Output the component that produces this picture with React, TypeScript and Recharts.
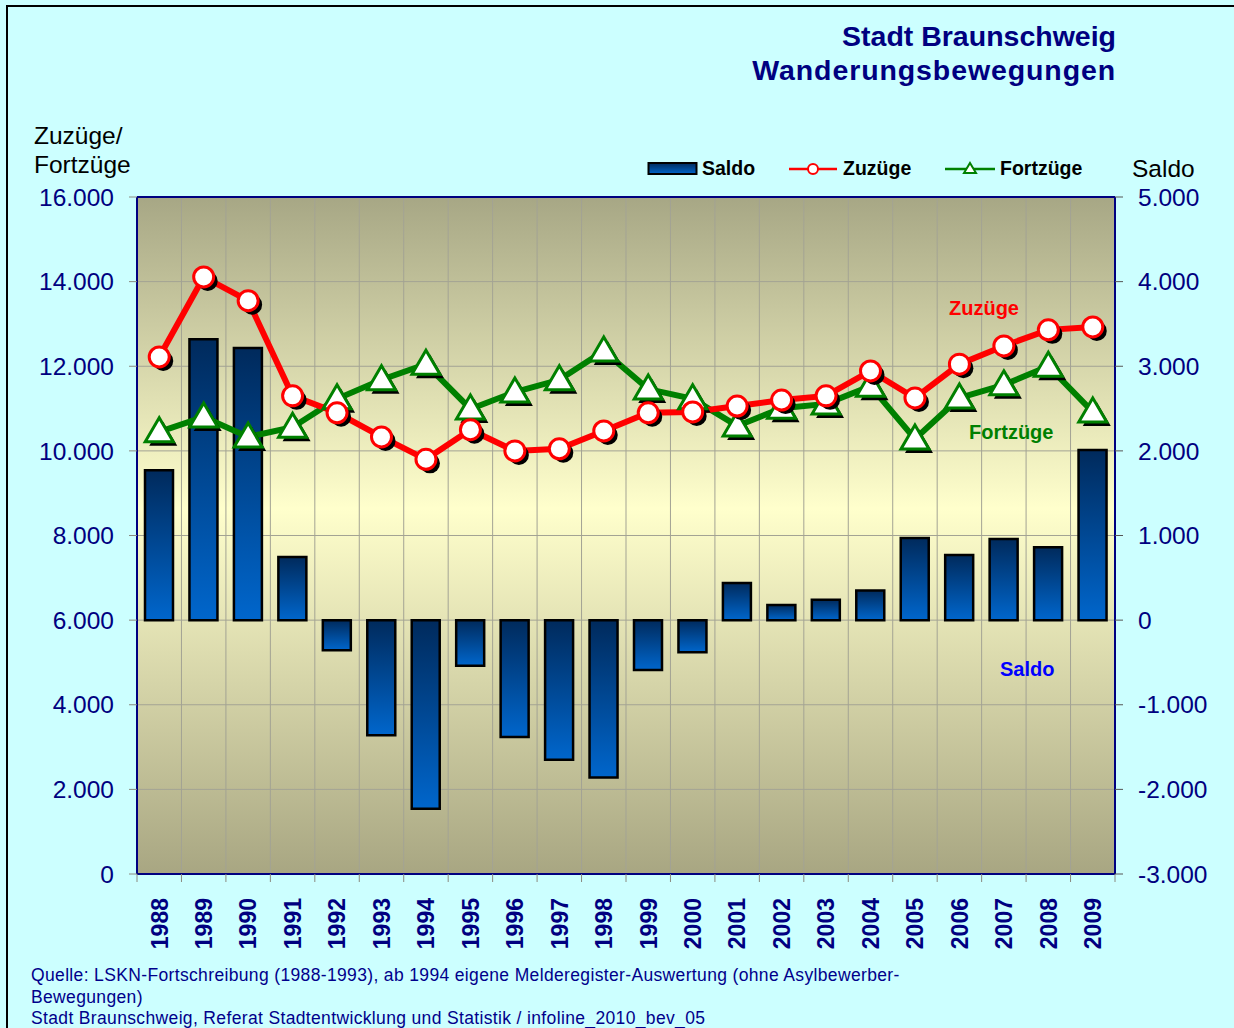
import { ComposedChart, Bar, Line, XAxis, YAxis, CartesianGrid, ReferenceLine } from 'recharts';

const YEARS = ['1988', '1989', '1990', '1991', '1992', '1993', '1994', '1995', '1996', '1997', '1998',
    '1999', '2000', '2001', '2002', '2003', '2004', '2005', '2006', '2007', '2008', '2009'];

// Zuzüge (left axis)
const ZUZUEGE = [12220, 14110, 13550, 11300, 10900, 10330, 9800, 10500, 10000, 10050, 10470,
    10900, 10920, 11060, 11200, 11300, 11890, 11250, 12050, 12480, 12860, 12930];

// Fortzüge (left axis)
const FORTZUEGE = [10450, 10800, 10330, 10560, 11230, 11680, 12050, 10990, 11390, 11680, 12360,
    11460, 11230, 10590, 11010, 11110, 11530, 10280, 11250, 11560, 12000, 10920];

// Saldo (right axis)
const SALDO = [1770, 3320, 3215, 745, -355, -1360, -2230, -540, -1380, -1650, -1860,
    -590, -380, 440, 180, 240, 350, 970, 770, 960, 860, 2010];

const LEFT_TICKS = [0, 2000, 4000, 6000, 8000, 10000, 12000, 14000, 16000];
const RIGHT_TICKS = [-3000, -2000, -1000, 0, 1000, 2000, 3000, 4000, 5000];
const EDGE_TICKS = [...YEARS.map((_, i) => i), YEARS.length];

const data = YEARS.map((year, i) => ({
    year,
    pos: i + 0.5,
    zuzuege: ZUZUEGE[i],
    fortzuege: FORTZUEGE[i],
    saldo: SALDO[i],
}));

const FONT = '"Liberation Sans", Arial, sans-serif';
const NAVY = '#000080';

// 12000 -> "12.000", -3000 -> "-3.000"
const fmt = (v: number) => {
    const s = Math.abs(v).toString().replace(/\B(?=(\d{3})+(?!\d))/g, '.');
    return v < 0 ? '-' + s : s;
};

const CircleDot = (props: any) => {
    const { cx, cy } = props;
    if (cx == null || cy == null) return null;
    return <g>
        <circle cx={cx + 4} cy={cy + 4} r={10} fill="#000" />
        <circle cx={cx} cy={cy} r={10} fill="#fff" stroke="#ff0000" strokeWidth={3} />
    </g>
};

const TriangleDot = (props: any) => {
    const { cx, cy } = props;
    if (cx == null || cy == null) return null;
    const tri = (x: number, y: number) => `${x},${y - 14} ${x + 14},${y + 10} ${x - 14},${y + 10}`;
    return <g>
        <polygon points={tri(cx + 4, cy + 4)} fill="#000" />
        <polygon points={tri(cx, cy)} fill="#fff" stroke="#008000" strokeWidth={3} strokeLinejoin="miter" />
    </g>
};

const YearTick = (props: any) => {
    const { x, y, payload } = props;
    return <g transform={`translate(${x},${y})`}>
        <text transform="rotate(-90)" x={-8} y={0} dy="0.36em" textAnchor="end"
            fill={NAVY} fontWeight="bold" fontSize={23} fontFamily={FONT}>
            {payload.value}
        </text>
    </g>
};

// tick marks only, no label
const NoLabel = () => <g />;

const abs = (left: number, top: number): React.CSSProperties => ({ position: 'absolute', left, top, whiteSpace: 'nowrap' });

export default function App() {
    return <div style={{ position: 'absolute', left: 0, top: 0, width: 1234, height: 1028, overflow: 'hidden', background: '#ccffff', fontFamily: FONT }}>
        {/* outer frame */}
        <div style={{ position: 'absolute', left: 6, top: 5, width: 1300, height: 1100, border: '2px solid #000' }} />

        <div style={{ ...abs(0, 19), width: 1116, textAlign: 'right', color: NAVY, fontWeight: 'bold', fontSize: 28.5, lineHeight: '34px' }}>
            Stadt Braunschweig
        </div>
        <div style={{ ...abs(0, 53), width: 1116, textAlign: 'right', color: NAVY, fontWeight: 'bold', fontSize: 28.5, lineHeight: '34px', letterSpacing: 0.9 }}>
            Wanderungsbewegungen
        </div>

        <div style={{ ...abs(34, 121), fontSize: 24.5, lineHeight: '29px', color: '#000' }}>Zuzüge/<br />Fortzüge</div>
        <div style={{ ...abs(1132, 155), fontSize: 24.5, color: '#000' }}>Saldo</div>

        {/* legend */}
        <div style={{ fontSize: 19.5, fontWeight: 'bold', color: '#000' }}>
            <svg width={52} height={16} style={abs(647, 161)}>
                <defs>
                    <linearGradient id="barGradL" x1="0" y1="0" x2="0" y2="1">
                        <stop offset="0%" stopColor="#002a5c" />
                        <stop offset="100%" stopColor="#0066cc" />
                    </linearGradient>
                </defs>
                <rect x={1.5} y={2} width={48} height={11} fill="url(#barGradL)" stroke="#000" strokeWidth={2} />
            </svg>
            <span style={abs(702, 157)}>Saldo</span>
            <svg width={50} height={20} style={abs(789, 159)}>
                <line x1={0} y1={10} x2={48} y2={10} stroke="#ff0000" strokeWidth={2.5} />
                <circle cx={24} cy={10} r={5} fill="#fff" stroke="#ff0000" strokeWidth={2} />
            </svg>
            <span style={abs(843, 157)}>Zuzüge</span>
            <svg width={52} height={20} style={abs(945, 159)}>
                <line x1={0} y1={10} x2={50} y2={10} stroke="#008000" strokeWidth={2.5} />
                <polygon points="25,4 31,14 19,14" fill="#fff" stroke="#008000" strokeWidth={2} />
            </svg>
            <span style={abs(1000, 157)}>Fortzüge</span>
        </div>

        <ComposedChart width={1234} height={1028} data={data}
            margin={{ top: 197, right: 19, left: 77, bottom: 66 }}
            style={{ position: 'absolute', left: 0, top: 0 }}>
            <defs>
                <linearGradient id="plotBg" x1="0" y1="0" x2="0" y2="1">
                    <stop offset="0%" stopColor="#a7a785" />
                    <stop offset="46%" stopColor="#ffffcc" />
                    <stop offset="100%" stopColor="#a8a682" />
                </linearGradient>
                <linearGradient id="barGrad" x1="0" y1="0" x2="0" y2="1">
                    <stop offset="0%" stopColor="#002a5c" />
                    <stop offset="100%" stopColor="#0066cc" />
                </linearGradient>
            </defs>

            <CartesianGrid xAxisId="axEdge" yAxisId="left" stroke="#a3a394" strokeWidth={1}
                fill="url(#plotBg)" fillOpacity={1} />

            <XAxis xAxisId="axEdge" type="number" dataKey="pos" domain={[0, YEARS.length]} ticks={EDGE_TICKS}
                tick={<NoLabel />} tickSize={8} tickLine={{ stroke: '#8a8a80' }} axisLine={false} height={8} />
            <XAxis xAxisId="cat" dataKey="year" height={80} tickLine={false}
                axisLine={false} tick={<YearTick />} interval={0} />

            <YAxis yAxisId="left" domain={[0, 16000]} ticks={LEFT_TICKS} width={60}
                tickFormatter={fmt} tickSize={8} tickMargin={15}
                tickLine={{ stroke: '#8a8a80' }} axisLine={{ stroke: NAVY, strokeWidth: 2 }}
                tick={{ fill: NAVY, fontSize: 24.5, fontFamily: FONT }} />
            <YAxis yAxisId="right" orientation="right" domain={[-3000, 5000]} ticks={RIGHT_TICKS} width={100}
                tickFormatter={fmt} tickSize={8} tickMargin={15}
                tickLine={{ stroke: '#555' }} axisLine={{ stroke: NAVY, strokeWidth: 2 }}
                tick={{ fill: NAVY, fontSize: 24.5, fontFamily: FONT, textAnchor: 'start' }} />

            <ReferenceLine xAxisId="cat" yAxisId="left" y={16000} stroke={NAVY} strokeWidth={2} />
            <ReferenceLine xAxisId="cat" yAxisId="left" y={0} stroke={NAVY} strokeWidth={2} />

            <Bar xAxisId="cat" yAxisId="right" dataKey="saldo" barSize={28}
                fill="url(#barGrad)" stroke="#000" strokeWidth={2.5} isAnimationActive={false} />
            <Line xAxisId="cat" yAxisId="left" dataKey="fortzuege" stroke="#008000" strokeWidth={6}
                dot={<TriangleDot />} activeDot={false} isAnimationActive={false} />
            <Line xAxisId="cat" yAxisId="left" dataKey="zuzuege" stroke="#ff0000" strokeWidth={6}
                dot={<CircleDot />} activeDot={false} isAnimationActive={false} />
        </ComposedChart>

        {/* series labels */}
        <div style={{ ...abs(949, 297), color: '#ff0000', fontWeight: 'bold', fontSize: 20 }}>Zuzüge</div>
        <div style={{ ...abs(969, 421), color: '#008000', fontWeight: 'bold', fontSize: 20 }}>Fortzüge</div>
        <div style={{ ...abs(1000, 658), color: '#0000ff', fontWeight: 'bold', fontSize: 20 }}>Saldo</div>

        {/* footer */}
        <div style={{ ...abs(31, 965), color: '#00008b', fontSize: 17.5, lineHeight: '21.5px', letterSpacing: 0.35 }}>
            Quelle: LSKN-Fortschreibung (1988-1993), ab 1994 eigene Melderegister-Auswertung (ohne Asylbewerber-<br />
            Bewegungen)<br />
            Stadt Braunschweig, Referat Stadtentwicklung und Statistik / infoline_2010_bev_05
        </div>
    </div>
}
